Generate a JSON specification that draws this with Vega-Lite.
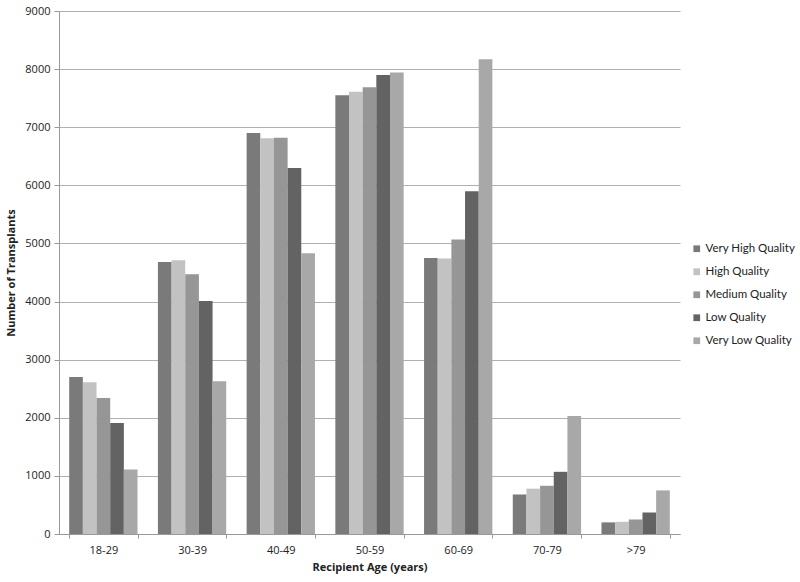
{
  "$schema": "https://vega.github.io/schema/vega-lite/v6.json",
  "width": 621,
  "height": 523,
  "autosize": {"type": "none"},
  "padding": {"left": 59, "top": 11, "right": 120, "bottom": 48},
  "background": "white",
  "config": {
    "font": "Open Sans",
    "view": {"stroke": null},
    "axis": {"labelFont": "Open Sans", "titleFont": "Open Sans", "labelColor": "#222", "titleColor": "#222"}
  },
  "data": {
    "values": [
      {"age": "18-29", "quality": "Very High Quality", "n": 2700},
      {"age": "18-29", "quality": "High Quality", "n": 2610},
      {"age": "18-29", "quality": "Medium Quality", "n": 2340},
      {"age": "18-29", "quality": "Low Quality", "n": 1910},
      {"age": "18-29", "quality": "Very Low Quality", "n": 1110},
      {"age": "30-39", "quality": "Very High Quality", "n": 4680},
      {"age": "30-39", "quality": "High Quality", "n": 4710},
      {"age": "30-39", "quality": "Medium Quality", "n": 4470},
      {"age": "30-39", "quality": "Low Quality", "n": 4010},
      {"age": "30-39", "quality": "Very Low Quality", "n": 2630},
      {"age": "40-49", "quality": "Very High Quality", "n": 6900},
      {"age": "40-49", "quality": "High Quality", "n": 6810},
      {"age": "40-49", "quality": "Medium Quality", "n": 6820},
      {"age": "40-49", "quality": "Low Quality", "n": 6300},
      {"age": "40-49", "quality": "Very Low Quality", "n": 4830},
      {"age": "50-59", "quality": "Very High Quality", "n": 7550},
      {"age": "50-59", "quality": "High Quality", "n": 7610},
      {"age": "50-59", "quality": "Medium Quality", "n": 7690},
      {"age": "50-59", "quality": "Low Quality", "n": 7900},
      {"age": "50-59", "quality": "Very Low Quality", "n": 7940},
      {"age": "60-69", "quality": "Very High Quality", "n": 4750},
      {"age": "60-69", "quality": "High Quality", "n": 4740},
      {"age": "60-69", "quality": "Medium Quality", "n": 5070},
      {"age": "60-69", "quality": "Low Quality", "n": 5900},
      {"age": "60-69", "quality": "Very Low Quality", "n": 8170},
      {"age": "70-79", "quality": "Very High Quality", "n": 680},
      {"age": "70-79", "quality": "High Quality", "n": 780},
      {"age": "70-79", "quality": "Medium Quality", "n": 830},
      {"age": "70-79", "quality": "Low Quality", "n": 1070},
      {"age": "70-79", "quality": "Very Low Quality", "n": 2030},
      {"age": ">79", "quality": "Very High Quality", "n": 200},
      {"age": ">79", "quality": "High Quality", "n": 210},
      {"age": ">79", "quality": "Medium Quality", "n": 250},
      {"age": ">79", "quality": "Low Quality", "n": 370},
      {"age": ">79", "quality": "Very Low Quality", "n": 750}
    ]
  },
  "mark": {"type": "bar"},
  "encoding": {
    "x": {
      "field": "age", "type": "nominal",
      "sort": ["18-29", "30-39", "40-49", "50-59", "60-69", "70-79", ">79"],
      "scale": {"paddingInner": 0.23, "paddingOuter": 0.115},
      "axis": {
        "title": "Recipient Age (years)", "titleFontWeight": "bold", "titleFontSize": 11,
        "labelAngle": 0, "labelFontSize": 11, "ticks": true, "tickBand": "extent", "tickSize": 4,
        "tickColor": "#999", "labelPadding": 6,
        "domainColor": "#999", "titlePadding": 6
      }
    },
    "xOffset": {
      "field": "quality", "type": "nominal",
      "sort": ["Very High Quality", "High Quality", "Medium Quality", "Low Quality", "Very Low Quality"],
      "scale": {"paddingInner": 0, "paddingOuter": 0}
    },
    "y": {
      "field": "n", "type": "quantitative",
      "scale": {"domain": [0, 9000], "nice": false},
      "axis": {
        "title": "Number of Transplants", "titleFontWeight": "bold", "titleFontSize": 11,
        "values": [0, 1000, 2000, 3000, 4000, 5000, 6000, 7000, 8000, 9000],
        "format": "d", "labelFontSize": 11, "gridColor": "#b0b0b0", "domainColor": "#999",
        "tickColor": "#999", "tickSize": 5, "labelPadding": 4, "titlePadding": 8
      }
    },
    "color": {
      "field": "quality", "type": "nominal",
      "sort": ["Very High Quality", "High Quality", "Medium Quality", "Low Quality", "Very Low Quality"],
      "scale": {
        "domain": ["Very High Quality", "High Quality", "Medium Quality", "Low Quality", "Very Low Quality"],
        "range": ["#7a7a7a", "#c2c2c2", "#969696", "#636363", "#a8a8a8"]
      },
      "legend": {
        "title": null, "orient": "none", "legendX": 632, "legendY": 232,
        "symbolType": "square", "symbolSize": 45, "labelFont": "Lato", "labelFontSize": 11.5, "rowPadding": 10,
        "labelOffset": 3, "symbolStrokeWidth": 0, "labelColor": "#222", "labelLimit": 0
      }
    }
  }
}
